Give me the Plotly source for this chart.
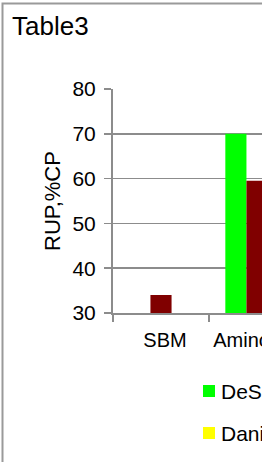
import plotly.graph_objects as go

categories = ["SBM", "AminoPlus"]
series_names = ["DeSouza", "NRC 2001", "Daniels"]
series_values = [
    [None, 70.0],
    [34.0, 59.5],
    [None, 64.0],
]
series_colors = ["#00ff00", "#800000", "#ffff00"]
y_ticks = [30, 40, 50, 60, 70, 80]

W, H = 262, 462
FONT = "Liberation Sans, Arial, sans-serif"
GRID = "#8c8c8c"

PL, PT, PB = 113, 89, 313  # plot area in page pixels
PW, PH = W - PL, PB - PT


def px(x):
    return (x - PL) / PW


def py(y):
    return (PB - y) / PH


fig = go.Figure()
for name, vals, col in zip(series_names, series_values, series_colors):
    fig.add_trace(go.Bar(x=categories, y=vals, name=name, marker_color=col,
                         marker_line_width=0, showlegend=False))

fig.update_layout(
    width=W, height=H,
    margin=dict(l=PL, r=0, t=PT, b=H - PB, autoexpand=False),
    paper_bgcolor="white", plot_bgcolor="white",
    barmode="group", bargap=0.34, bargroupgap=0,
    font=dict(family=FONT, size=21, color="black"),
    title=dict(text="Table3", x=12 / W, xref="container", xanchor="left",
               y=1 - 26 / H, yref="container", yanchor="middle",
               font=dict(size=26, family=FONT, color="black")),
)
fig.update_yaxes(range=[30, 80], tickvals=y_ticks, showgrid=True, gridcolor=GRID, gridwidth=1.5,
                 showline=True, linecolor=GRID, linewidth=2, ticks="outside", ticklen=7,
                 tickcolor=GRID, tickwidth=1.5, zeroline=False, automargin=False,
                 ticklabelstandoff=4,
                 title=dict(text="RUP,%CP", font=dict(size=22), standoff=6),
                 tickfont=dict(size=21))
fig.update_xaxes(type="category", range=[-0.5, 1.052], showline=True, linecolor=GRID, linewidth=2,
                 ticks="outside", ticklen=7, tickcolor=GRID, tickwidth=1.5, tickson="boundaries",
                 showgrid=False, tickfont=dict(size=20), tickangle=0, automargin=False,
                 ticklabelstandoff=8, ticklabelshift=4)

# legend drawn manually (two-column Excel legend, right column off-view)
legend_pos = [(203, 391), (None, None), (203, 433)]
for (lx, ly), name, col in zip(legend_pos, series_names, series_colors):
    if lx is None:
        continue
    fig.add_shape(type="rect", xref="paper", yref="paper",
                  x0=px(lx), x1=px(lx + 12), y0=py(ly + 6), y1=py(ly - 6),
                  fillcolor=col, line_width=0)
    fig.add_annotation(text=name, xref="paper", yref="paper", showarrow=False,
                       x=px(lx + 16), y=py(ly), xanchor="left", yanchor="middle",
                       font=dict(size=21, family=FONT, color="black"))

# chart frame
fig.add_shape(type="rect", xref="paper", yref="paper",
              x0=px(2.5), x1=1.2, y0=-1.0, y1=py(3.5),
              line=dict(color="#9a9a9a", width=2), fillcolor="rgba(0,0,0,0)", layer="above")

fig.write_html("out.html", config={"displayModeBar": False, "staticPlot": True},
               post_script="document.body.style.margin='0';")
